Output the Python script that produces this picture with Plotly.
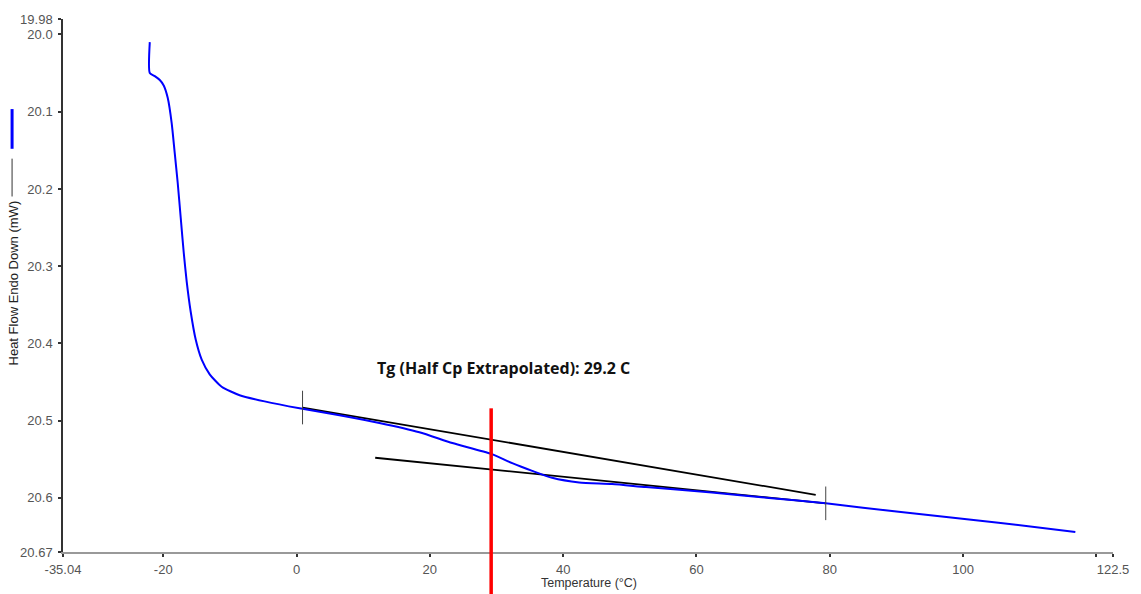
import plotly.graph_objects as go

# Blue DSC curve (temperature °C, heat flow mW)
temp = [-22.02, -22.02, -21.27, -20.52, -19.93, -19.33, -18.73, -18.28, -17.83, -17.38,
        -16.93, -16.48, -15.88, -15.13, -14.23, -13.03, -11.24, -8.54, -4.79, 0.45,
        6.44, 12.43, 18.43, 23.37, 29.21, 32.36, 35.36, 38.35, 42.40, 47.34,
        52.43, 62.32, 70.86, 79.40, 90.34, 105.32, 116.85]
heat = [20.010, 20.050, 20.054, 20.059, 20.066, 20.082, 20.115, 20.153, 20.192, 20.237,
        20.282, 20.320, 20.359, 20.395, 20.421, 20.440, 20.456, 20.467, 20.475, 20.484,
        20.493, 20.503, 20.515, 20.529, 20.543, 20.555, 20.565, 20.574, 20.580, 20.582,
        20.586, 20.593, 20.600, 20.607, 20.618, 20.632, 20.644]

# Tangent (baseline) lines
upper_x = [0.9, 77.9]
upper_y = [20.483, 20.596]
lower_x = [11.8, 79.4]
lower_y = [20.548, 20.607]

# Limit markers
limit_x = [0.9, 79.4]
limit_y = [20.483, 20.607]

tg = 29.2
tg_top = 20.484
label_text = "Tg (Half Cp Extrapolated): 29.2 C"
label_x = 31.0
label_y = 20.432

x_min, x_max = -35.04, 122.5
y_min, y_max = 19.98, 20.67
x_tickvals = [-35.04, -20, 0, 20, 40, 60, 80, 100, 120, 122.5]
x_ticktext = ["-35.04", "-20", "0", "20", "40", "60", "80", "100", "", "122.5"]
y_tickvals = [19.98, 20.0, 20.1, 20.2, 20.3, 20.4, 20.5, 20.6, 20.67]
y_ticktext = ["19.98", "20.0", "20.1", "20.2", "20.3", "20.4", "20.5", "20.6", "20.67"]

fig = go.Figure()
fig.add_trace(go.Scatter(x=upper_x, y=upper_y, mode="lines",
                         line=dict(color="#000000", width=1.8), showlegend=False))
fig.add_trace(go.Scatter(x=lower_x, y=lower_y, mode="lines",
                         line=dict(color="#000000", width=1.8), showlegend=False))
fig.add_trace(go.Scatter(x=temp, y=heat, mode="lines",
                         line=dict(color="#0000FF", width=2, shape="spline", smoothing=0.6),
                         showlegend=False))
fig.add_trace(go.Scatter(x=limit_x, y=limit_y, mode="markers",
                         marker=dict(symbol="line-ns", size=24,
                                     line=dict(color="#444444", width=1)),
                         showlegend=False))

# Red Tg line extending below the plot area
tg_paper = (y_max - tg_top) / (y_max - y_min)
fig.add_shape(type="line", xref="x", yref="paper", x0=tg, x1=tg,
              y0=tg_paper, y1=-0.08, line=dict(color="#FF0000", width=3.5))

fig.add_annotation(x=label_x, y=label_y, xref="x", yref="y", text="<b>" + label_text + "</b>",
                   showarrow=False, font=dict(family="Open Sans", size=16, color="#111111"))

# Axis titles
fig.add_annotation(xref="paper", yref="paper", x=-0.0475, y=0.504, text="Heat Flow Endo Down (mW)",
                   textangle=-90, showarrow=False, xanchor="center", yanchor="middle",
                   font=dict(family="Liberation Sans", size=13, color="#222222"))
fig.add_annotation(xref="paper", yref="paper", x=0.501, y=-0.058, text="Temperature (°C)",
                   showarrow=False, xanchor="center", yanchor="middle",
                   font=dict(family="Liberation Sans", size=12.5, color="#333333"))

# Legend-like markers on the far left
fig.add_shape(type="line", xref="paper", yref="paper", x0=-0.0485, x1=-0.0485,
              y0=0.831, y1=0.7565, line=dict(color="#0000FF", width=3))
fig.add_shape(type="line", xref="paper", yref="paper", x0=-0.0485, x1=-0.0485,
              y0=0.738, y1=0.667, line=dict(color="#333333", width=1))

fig.update_layout(
    width=1141, height=594,
    margin=dict(l=63, r=26, t=14, b=42),
    plot_bgcolor="white", paper_bgcolor="white",
    font=dict(family="Liberation Sans", size=13, color="#555555"),
    showlegend=False,
)
fig.update_xaxes(range=[x_min, x_max], tickmode="array", tickvals=x_tickvals, ticktext=x_ticktext,
                 showgrid=False, zeroline=False, showline=True, linecolor="#999999", linewidth=1.5,
                 ticks="outside", ticklen=3, tickcolor="#333333", tickwidth=1.5,
                 ticklabelstandoff=2,
                 tickfont=dict(size=13, color="#555555"))
fig.update_yaxes(range=[y_max, y_min], tickmode="array", tickvals=y_tickvals, ticktext=y_ticktext,
                 showgrid=False, zeroline=False, showline=True, linecolor="#333333", linewidth=1.5,
                 ticks="outside", ticklen=3, tickcolor="#333333", tickwidth=1.5,
                 ticklabelstandoff=3,
                 tickfont=dict(size=13, color="#555555"))

fig.write_html("out.html")
